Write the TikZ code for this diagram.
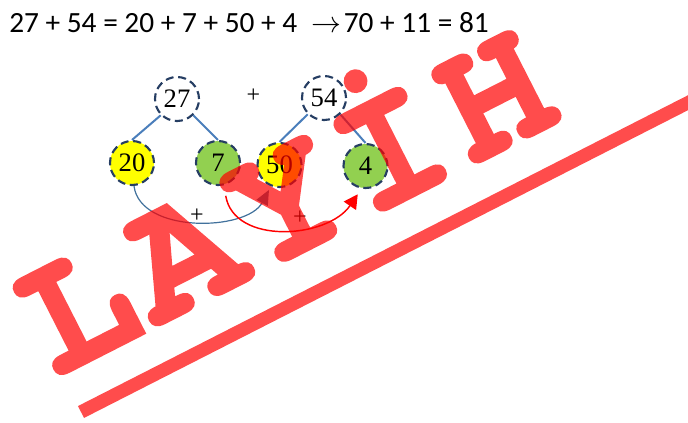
\documentclass[tikz,border=0pt]{standalone}
\usepackage{fontspec}
\usepackage{graphicx}
\setmainfont{Liberation Serif}
\newfontfamily\carlito{Carlito}
\newfontfamily\wmfont{TeX Gyre Cursor}[FakeBold=1.2]
\usetikzlibrary{arrows.meta}
\definecolor{ringc}{HTML}{263E63}
\definecolor{edgec}{HTML}{4A7EBB}
\definecolor{arcb}{HTML}{41719C}
\definecolor{fillg}{HTML}{92D050}
\definecolor{filly}{HTML}{FFFF00}
\definecolor{wmred}{HTML}{FF0000}
\newcommand{\wmgap}{\hspace{6.75pt}}
\tikzset{
  numc/.style={circle, draw=ringc, line width=1.6pt, dash pattern=on 6pt off 3.5pt,
    minimum size=33pt, inner sep=0pt, font=\fontsize{20}{20}\selectfont},
  treeedge/.style={draw=edgec, line width=1.5pt},
  plussign/.style={inner sep=0pt, font=\fontsize{18}{18}\selectfont},
  bluearc/.style={draw=arcb, line width=0.9pt, -{Triangle[length=11pt,width=9.5pt]}},
  redarc/.style={draw=red, line width=1.1pt, -{Triangle[length=10.5pt,width=11pt]}},
  wmtxt/.style={text=wmred, inner sep=0pt,
    font=\wmfont\bfseries\fontsize{135}{135}\selectfont},
  wmline/.style={draw=wmred, line width=10pt}
}
\begin{document}
\begin{tikzpicture}[x=0.75pt,y=-0.75pt]
\useasboundingbox (0,0) rectangle (688,422);
\clip (0,0) rectangle (688,422);
% equation
\node[anchor=base west, inner sep=0pt, font=\carlito\fontsize{22}{26}\selectfont] (eq) at (9,32)
  {27 + 54 = 20 + 7 + 50 + 4\hspace{11pt}\scalebox{1.08}{$\rightarrow$}\hspace{1.5pt}70 + 11 = 81};
% circles
\node[numc] (n27) at (177,99) {27};
\node[numc] (n54) at (324,98) {54};
\node[numc, fill=filly] (n20) at (132,163) {20};
\node[numc, fill=fillg] (n7) at (218,163) {7};
\node[numc, fill=filly] (n50) at (279.5,165) {50};
\node[numc, fill=fillg] (n4) at (365.5,166) {4};
\node[plussign] (ptop) at (253.5,96) {+};
% tree edges
\draw[treeedge] (n27.225) -- (n20.north);
\draw[treeedge] (n27.-45) -- (n7.north);
\draw[treeedge] (n54.225) -- (n50.north);
\draw[treeedge] (n54.-45) -- (n4.north);
% arcs
\draw[bluearc, shorten >=3pt] (n20.-85) .. controls +(6,48) and +(-24,45) .. (n50.248);
\draw[redarc, shorten <=8pt, shorten >=5pt] (n7.-75) .. controls +(10,60) and +(-34,50) .. (n4.260);
\node[plussign] (pb) at (197,216) {+};
\node[plussign] (pr) at (300,218) {+};
% watermark
\begin{scope}[transparency group, opacity=0.7]
\node[wmtxt, rotate=27, anchor=base west] (wm) at (53,380) {L\wmgap A\wmgap Y\wmgap İ\wmgap H};
\coordinate (ul1) at (81,412);
\coordinate (ul2) at (720,86.4);
\draw[wmline] (ul1) -- (ul2);
\end{scope}
\end{tikzpicture}
\end{document}
